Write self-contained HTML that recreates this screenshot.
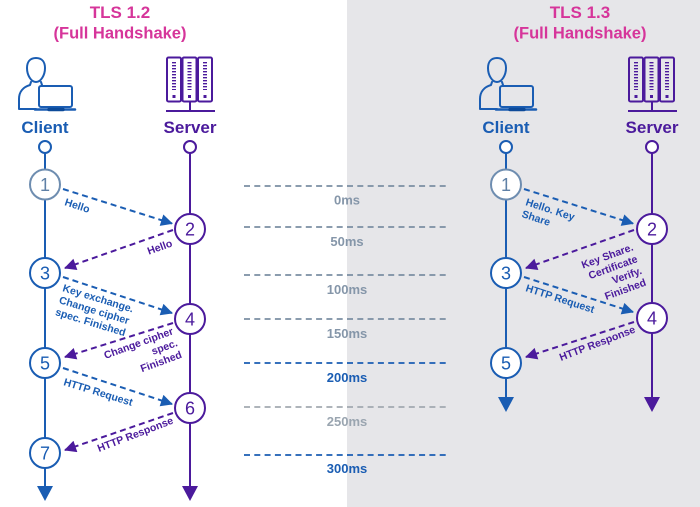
<!DOCTYPE html>
<html><head><meta charset="utf-8"><style>
html,body{margin:0;padding:0;background:#fff;}
svg{display:block;}
text{font-family:"Liberation Sans",sans-serif;}
</style></head><body>
<svg width="700" height="507" viewBox="0 0 700 507" xmlns="http://www.w3.org/2000/svg">
<defs>
<marker id="mb" viewBox="0 0 12 12" refX="11" refY="6" markerWidth="13" markerHeight="12" markerUnits="userSpaceOnUse" orient="auto"><path d="M0,0 L12,6 L0,12 z" fill="#1a5db3"/></marker>
<marker id="mp" viewBox="0 0 12 12" refX="11" refY="6" markerWidth="13" markerHeight="12" markerUnits="userSpaceOnUse" orient="auto"><path d="M0,0 L12,6 L0,12 z" fill="#4b1a9c"/></marker>
<g id="cli" fill="none" stroke="#1a5db3" stroke-width="2" stroke-linejoin="round" stroke-linecap="round">
<path d="M36,58 C30,58 27,62 27,68 C27,75 31,82 36,82 C41,82 45,75 45,68 C45,62 42,58 36,58 Z"/>
<path d="M31,82 L30,85 C23,87 19,92 19,99 L19,109 L36,109"/>
<path d="M41,82 L42,85"/>
<rect x="39" y="86" width="33" height="21" rx="2"/>
<path d="M35,109.5 L75,109.5" stroke-width="2.5"/>
<path d="M49,109.5 L63,109.5" stroke-width="3.5" stroke="#0d4a99"/>
</g>
<g id="srv" fill="none" stroke="#4b1a9c" stroke-width="2">
<rect x="167" y="57.5" width="14" height="44" rx="1.5"/>
<rect x="182.5" y="57.5" width="14" height="44" rx="1.5"/>
<rect x="198" y="57.5" width="14" height="44" rx="1.5"/>
<line x1="174" y1="62" x2="174" y2="90" stroke-width="4" stroke-dasharray="1.4 1.6"/>
<line x1="189.5" y1="62" x2="189.5" y2="90" stroke-width="4" stroke-dasharray="1.4 1.6"/>
<line x1="205" y1="62" x2="205" y2="90" stroke-width="4" stroke-dasharray="1.4 1.6"/>
<rect x="172.5" y="95" width="3" height="3" fill="#4b1a9c" stroke="none"/>
<rect x="188" y="95" width="3" height="3" fill="#4b1a9c" stroke="none"/>
<rect x="203.5" y="95" width="3" height="3" fill="#4b1a9c" stroke="none"/>
<line x1="190" y1="102" x2="190" y2="111"/>
<line x1="166" y1="111" x2="215" y2="111"/>
</g>
</defs>

<rect x="0" y="0" width="700" height="507" fill="#ffffff"/>
<rect x="347" y="0" width="353" height="507" fill="#e6e6e9"/>

<!-- Titles -->
<g font-weight="bold" fill="#d6359a" text-anchor="middle">
<text x="120" y="18" font-size="17">TLS 1.2</text>
<text x="120" y="38.5" font-size="16.5">(Full Handshake)</text>
<text x="580" y="18" font-size="17">TLS 1.3</text>
<text x="580" y="38.5" font-size="16.5">(Full Handshake)</text>
</g>

<!-- Icons -->
<use href="#cli"/>
<use href="#srv"/>
<use href="#cli" transform="translate(461,0)"/>
<use href="#srv" transform="translate(462,0)"/>

<g font-weight="bold" font-size="17" text-anchor="middle">
<text x="45" y="133" fill="#1a5db3">Client</text>
<text x="190" y="133" fill="#4b1a9c">Server</text>
<text x="506" y="133" fill="#1a5db3">Client</text>
<text x="652" y="133" fill="#4b1a9c">Server</text>
</g>

<!-- Timeline -->
<g stroke-width="1.8" stroke-dasharray="6 4.3">
<line x1="244" y1="186" x2="450" y2="186" stroke="#7b8ea2"/>
<line x1="244" y1="227" x2="450" y2="227" stroke="#7b8ea2"/>
<line x1="244" y1="275" x2="450" y2="275" stroke="#7b8ea2"/>
<line x1="244" y1="319" x2="450" y2="319" stroke="#7b8ea2"/>
<line x1="244" y1="363" x2="450" y2="363" stroke="#1a5db3"/>
<line x1="244" y1="407" x2="450" y2="407" stroke="#a2a9b0"/>
<line x1="244" y1="455" x2="450" y2="455" stroke="#1a5db3"/>
</g>
<g font-weight="bold" font-size="13" text-anchor="middle">
<text x="347" y="204.5" fill="#8596a9">0ms</text>
<text x="347" y="246" fill="#8596a9">50ms</text>
<text x="347" y="294" fill="#8596a9">100ms</text>
<text x="347" y="338" fill="#8596a9">150ms</text>
<text x="347" y="382" fill="#1a5db3">200ms</text>
<text x="347" y="426" fill="#9aa5b0">250ms</text>
<text x="347" y="473" fill="#1a5db3">300ms</text>
</g>

<!-- Lifelines LEFT -->
<line x1="45" y1="153" x2="45" y2="488" stroke="#1a5db3" stroke-width="2"/>
<line x1="190" y1="153" x2="190" y2="488" stroke="#4b1a9c" stroke-width="2"/>
<polygon points="37,486 53,486 45,501" fill="#1a5db3"/>
<polygon points="182,486 198,486 190,501" fill="#4b1a9c"/>
<circle cx="45" cy="147" r="6" fill="#fff" stroke="#1a5db3" stroke-width="2"/>
<circle cx="190" cy="147" r="6" fill="#fff" stroke="#4b1a9c" stroke-width="2"/>

<!-- Lifelines RIGHT -->
<line x1="506" y1="153" x2="506" y2="398" stroke="#1a5db3" stroke-width="2"/>
<line x1="652" y1="153" x2="652" y2="398" stroke="#4b1a9c" stroke-width="2"/>
<polygon points="498,397 514,397 506,412" fill="#1a5db3"/>
<polygon points="644,397 660,397 652,412" fill="#4b1a9c"/>
<circle cx="506" cy="147" r="6" fill="#fff" stroke="#1a5db3" stroke-width="2"/>
<circle cx="652" cy="147" r="6" fill="#fff" stroke="#4b1a9c" stroke-width="2"/>

<!-- Arrows LEFT -->
<g stroke-width="2" stroke-dasharray="6 4" fill="none">
<line x1="63" y1="189" x2="172" y2="223.5" stroke="#1a5db3" marker-end="url(#mb)"/>
<line x1="173" y1="230" x2="65" y2="268" stroke="#4b1a9c" marker-end="url(#mp)"/>
<line x1="63" y1="277" x2="172" y2="313" stroke="#1a5db3" marker-end="url(#mb)"/>
<line x1="173" y1="323" x2="65" y2="357" stroke="#4b1a9c" marker-end="url(#mp)"/>
<line x1="63" y1="368" x2="172" y2="404" stroke="#1a5db3" marker-end="url(#mb)"/>
<line x1="173" y1="413" x2="65" y2="450" stroke="#4b1a9c" marker-end="url(#mp)"/>
</g>
<!-- Arrows RIGHT -->
<g stroke-width="2" stroke-dasharray="6 4" fill="none">
<line x1="524" y1="189" x2="633" y2="223.5" stroke="#1a5db3" marker-end="url(#mb)"/>
<line x1="634" y1="230" x2="526" y2="268" stroke="#4b1a9c" marker-end="url(#mp)"/>
<line x1="524" y1="277" x2="633" y2="312" stroke="#1a5db3" marker-end="url(#mb)"/>
<line x1="634" y1="322" x2="526" y2="357" stroke="#4b1a9c" marker-end="url(#mp)"/>
</g>

<!-- Step circles LEFT -->
<g stroke-width="2" fill="#fff">
<circle cx="45" cy="184.5" r="15" stroke="#6e8db0"/>
<circle cx="190" cy="229" r="15" stroke="#4b1a9c"/>
<circle cx="45" cy="273" r="15" stroke="#1a5db3"/>
<circle cx="190" cy="319" r="15" stroke="#4b1a9c"/>
<circle cx="45" cy="363" r="15" stroke="#1a5db3"/>
<circle cx="190" cy="408" r="15" stroke="#4b1a9c"/>
<circle cx="45" cy="453" r="15" stroke="#1a5db3"/>
<circle cx="506" cy="184.5" r="15" stroke="#6e8db0"/>
<circle cx="652" cy="229" r="15" stroke="#4b1a9c"/>
<circle cx="506" cy="273" r="15" stroke="#1a5db3"/>
<circle cx="652" cy="318" r="15" stroke="#4b1a9c"/>
<circle cx="506" cy="363" r="15" stroke="#1a5db3"/>
</g>
<g font-size="18" text-anchor="middle">
<text x="45" y="191" fill="#5f80a6">1</text>
<text x="190" y="235.5" fill="#4b1a9c">2</text>
<text x="45" y="279.5" fill="#1a5db3">3</text>
<text x="190" y="325.5" fill="#4b1a9c">4</text>
<text x="45" y="369.5" fill="#1a5db3">5</text>
<text x="190" y="414.5" fill="#4b1a9c">6</text>
<text x="45" y="459.5" fill="#1a5db3">7</text>
<text x="506" y="191" fill="#5f80a6">1</text>
<text x="652" y="235.5" fill="#4b1a9c">2</text>
<text x="506" y="279.5" fill="#1a5db3">3</text>
<text x="652" y="324.5" fill="#4b1a9c">4</text>
<text x="506" y="369.5" fill="#1a5db3">5</text>
</g>

<!-- Labels LEFT -->
<g font-weight="bold" font-size="10.5">
<text transform="translate(64,205) rotate(18)" fill="#1a5db3">Hello</text>
<text transform="translate(173,246) rotate(-20)" fill="#4b1a9c" text-anchor="end">Hello</text>
<g transform="translate(62,291) rotate(17)" fill="#1a5db3">
<text x="0" y="0">Key exchange.</text>
<text x="0" y="12.5">Change cipher</text>
<text x="0" y="25">spec. Finished</text>
</g>
<g transform="translate(174,334) rotate(-20)" fill="#4b1a9c" text-anchor="end">
<text x="0" y="0">Change cipher</text>
<text x="0" y="12.5">spec.</text>
<text x="0" y="25">Finished</text>
</g>
<text transform="translate(63,385) rotate(17)" fill="#1a5db3">HTTP Request</text>
<text transform="translate(99,452) rotate(-21)" fill="#4b1a9c">HTTP Response</text>
</g>

<!-- Labels RIGHT -->
<g font-weight="bold" font-size="10.5">
<g transform="translate(525,205) rotate(18)" fill="#1a5db3">
<text x="0" y="0">Hello. Key</text>
<text x="0" y="12.5">Share</text>
</g>
<g transform="translate(634,250) rotate(-20)" fill="#4b1a9c" text-anchor="end">
<text x="0" y="0">Key Share.</text>
<text x="0" y="12.5">Certificate</text>
<text x="0" y="25">Verify.</text>
<text x="0" y="37.5">Finished</text>
</g>
<text transform="translate(525,291) rotate(18)" fill="#1a5db3">HTTP Request</text>
<text transform="translate(561,361) rotate(-21)" fill="#4b1a9c">HTTP Response</text>
</g>
</svg>
</body></html>
